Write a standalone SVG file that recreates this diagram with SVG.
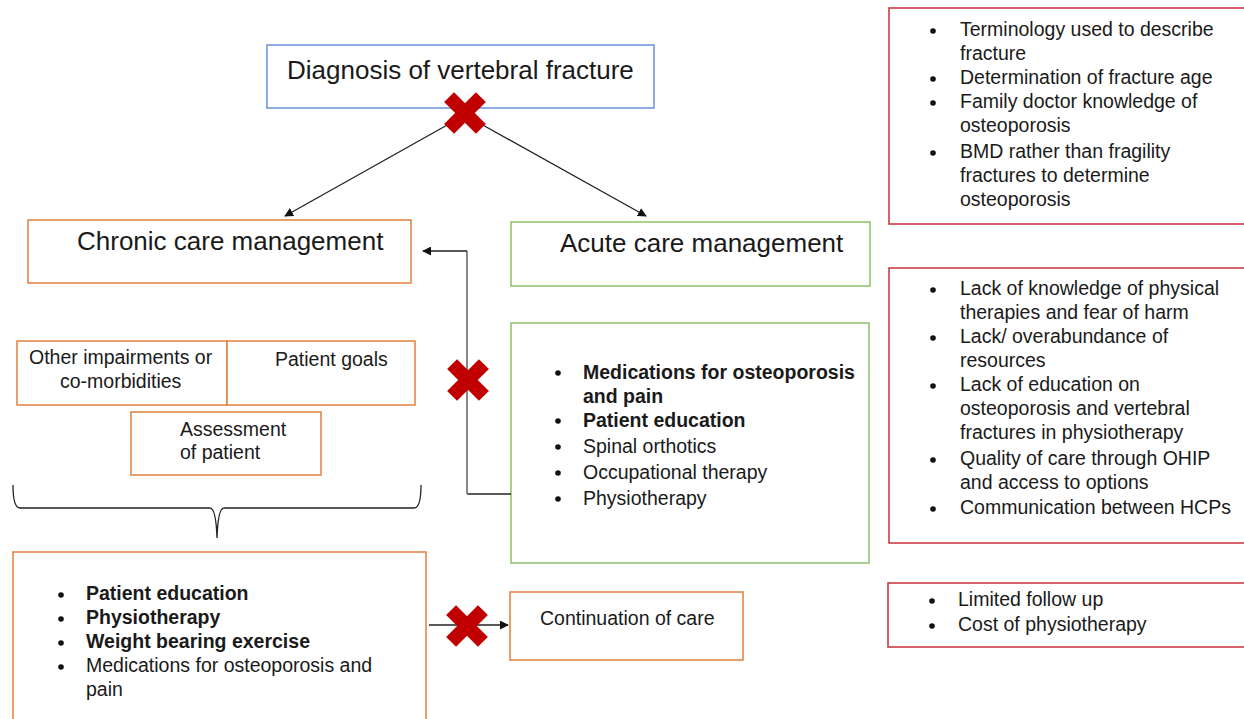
<svg xmlns="http://www.w3.org/2000/svg" width="1244" height="719" viewBox="0 0 1244 719">
<style>
text{font-family:"Liberation Sans",Arial,sans-serif;fill:#1a1a1a}
.t22{font-size:26px}
.t17{font-size:19.5px}
.t16{font-size:19.5px}
.b{font-weight:bold}
.box{fill:#fff;stroke-width:1.5}
.or{stroke:#E0803F}
.gr{stroke:#8DC26A}
.bl{stroke:#6A92DA}
.rd{stroke:#C8303A}
.ln{fill:none;stroke:#222;stroke-width:1.3}
.dot{fill:#111}
</style>
<defs>
<marker id="ah" viewBox="0 0 10 10" refX="9" refY="5" markerWidth="9" markerHeight="9" markerUnits="userSpaceOnUse" orient="auto">
<path d="M0,0 L10,5 L0,10 Z" fill="#111"/>
</marker>
<g id="xm">
<rect x="-22.5" y="-7" width="45" height="14" fill="#C00000" transform="rotate(45)"/>
<rect x="-22.5" y="-7" width="45" height="14" fill="#C00000" transform="rotate(-45)"/>
</g>
</defs>
<rect width="1244" height="719" fill="#fff"/>

<g id="diagnosis">
<rect class="box bl" x="267" y="45" width="387" height="63"/>
<text class="t22" x="287" y="79">Diagnosis of vertebral fracture</text>
</g>

<g id="chronic">
<rect class="box or" x="28" y="220" width="383" height="63"/>
<text class="t22" x="77" y="250">Chronic care management</text>
</g>

<g id="acute">
<rect class="box gr" x="511" y="222" width="359" height="64"/>
<text class="t22" x="560" y="252">Acute care management</text>
</g>

<g id="acute-items">
<rect class="box gr" x="511" y="323" width="358" height="240"/>
<circle class="dot" cx="558" cy="373" r="2.8"/>
<text class="t17 b" x="583" y="379">Medications for osteoporosis</text>
<text class="t17 b" x="583" y="403">and pain</text>
<circle class="dot" cx="558" cy="421" r="2.8"/>
<text class="t17 b" x="583" y="427">Patient education</text>
<circle class="dot" cx="558" cy="447" r="2.8"/>
<text class="t17" x="583" y="453">Spinal orthotics</text>
<circle class="dot" cx="558" cy="473" r="2.8"/>
<text class="t17" x="583" y="479">Occupational therapy</text>
<circle class="dot" cx="558" cy="499" r="2.8"/>
<text class="t17" x="583" y="505">Physiotherapy</text>
</g>

<g id="other-impairments">
<rect class="box or" x="17" y="341" width="210" height="64"/>
<text class="t16" x="29" y="364">Other impairments or</text>
<text class="t16" x="60" y="388">co-morbidities</text>
</g>

<g id="patient-goals">
<rect class="box or" x="227" y="341" width="188" height="64"/>
<text class="t16" x="275" y="366">Patient goals</text>
</g>

<g id="assessment">
<rect class="box or" x="131" y="412" width="190" height="63"/>
<text class="t16" x="180" y="436">Assessment</text>
<text class="t16" x="180" y="459">of patient</text>
</g>

<g id="chronic-items">
<rect class="box or" x="13" y="552" width="413" height="180"/>
<circle class="dot" cx="61" cy="595" r="2.8"/>
<text class="t17 b" x="86" y="600">Patient education</text>
<circle class="dot" cx="61" cy="619" r="2.8"/>
<text class="t17 b" x="86" y="624">Physiotherapy</text>
<circle class="dot" cx="61" cy="643" r="2.8"/>
<text class="t17 b" x="86" y="648">Weight bearing exercise</text>
<circle class="dot" cx="61" cy="667" r="2.8"/>
<text class="t17" x="86" y="672">Medications for osteoporosis and</text>
<text class="t17" x="86" y="696">pain</text>
</g>

<g id="continuation">
<rect class="box or" x="510" y="592" width="233" height="68"/>
<text class="t17" x="540" y="625">Continuation of care</text>
</g>

<g id="barriers-diagnosis">
<rect class="box rd" x="889" y="8" width="370" height="216"/>
<circle class="dot" cx="933" cy="31" r="2.8"/>
<text class="t17" x="960" y="36">Terminology used to describe</text>
<text class="t17" x="960" y="60">fracture</text>
<circle class="dot" cx="933" cy="79" r="2.8"/>
<text class="t17" x="960" y="84">Determination of fracture age</text>
<circle class="dot" cx="933" cy="103" r="2.8"/>
<text class="t17" x="960" y="108">Family doctor knowledge of</text>
<text class="t17" x="960" y="132">osteoporosis</text>
<circle class="dot" cx="933" cy="153" r="2.8"/>
<text class="t17" x="960" y="158">BMD rather than fragility</text>
<text class="t17" x="960" y="182">fractures to determine</text>
<text class="t17" x="960" y="206">osteoporosis</text>
</g>

<g id="barriers-acute">
<rect class="box rd" x="889" y="268" width="370" height="275"/>
<circle class="dot" cx="933" cy="290" r="2.8"/>
<text class="t17" x="960" y="295">Lack of knowledge of physical</text>
<text class="t17" x="960" y="319">therapies and fear of harm</text>
<circle class="dot" cx="933" cy="338" r="2.8"/>
<text class="t17" x="960" y="343">Lack/ overabundance of</text>
<text class="t17" x="960" y="367">resources</text>
<circle class="dot" cx="933" cy="386" r="2.8"/>
<text class="t17" x="960" y="391">Lack of education on</text>
<text class="t17" x="960" y="415">osteoporosis and vertebral</text>
<text class="t17" x="960" y="439">fractures in physiotherapy</text>
<circle class="dot" cx="933" cy="460" r="2.8"/>
<text class="t17" x="960" y="465">Quality of care through OHIP</text>
<text class="t17" x="960" y="489">and access to options</text>
<circle class="dot" cx="933" cy="509" r="2.8"/>
<text class="t17" x="960" y="514">Communication between HCPs</text>
</g>

<g id="barriers-continuation">
<rect class="box rd" x="888" y="583" width="370" height="64"/>
<circle class="dot" cx="932" cy="601" r="2.8"/>
<text class="t17" x="958" y="606">Limited follow up</text>
<circle class="dot" cx="932" cy="626" r="2.8"/>
<text class="t17" x="958" y="631">Cost of physiotherapy</text>
</g>

<g id="connectors">
<line class="ln" x1="449" y1="124" x2="285" y2="216" marker-end="url(#ah)"/>
<line class="ln" x1="481" y1="124" x2="646" y2="216" marker-end="url(#ah)"/>
<polyline points="511,494 467,494" class="ln"/>
<line x1="467" y1="494" x2="467" y2="251" stroke="#888" stroke-width="2"/>
<polyline points="467,251 423,251" class="ln" marker-end="url(#ah)"/>
<path class="ln" d="M13,485 Q13,508 20,508 L210,508 Q216,508 217,538 Q218,508 224,508 L414,508 Q421,508 421,485"/>
<line class="ln" x1="429" y1="625" x2="508" y2="625" marker-end="url(#ah)"/>
<use href="#xm" x="465" y="113"/>
<use href="#xm" x="468" y="380"/>
<use href="#xm" x="467" y="626"/>
</g>
</svg>
